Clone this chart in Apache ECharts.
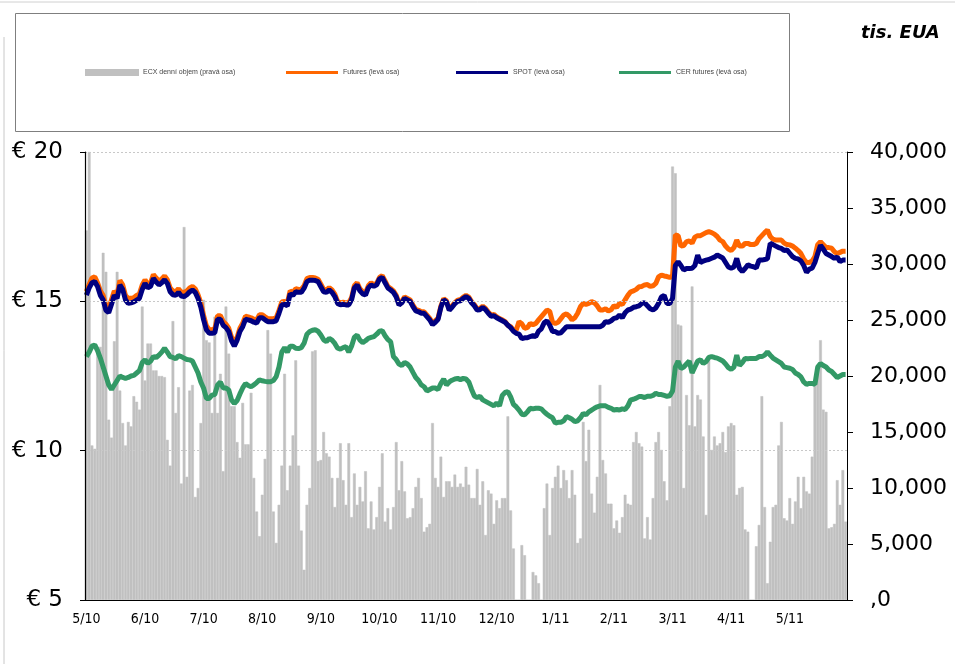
<!DOCTYPE html>
<html>
<head>
<meta charset="utf-8">
<script src="https://cdn.jsdelivr.net/npm/echarts@6/dist/echarts.min.js"></script>
<style>
  html, body { margin: 0; padding: 0; background: #fff; }
  #chart { width: 955px; height: 664px; }
</style>
</head>
<body>
<div id="chart"></div>
<script>
// months shown on the x axis, 21 trading days each
const monthLabels = ['5/10', '6/10', '7/10', '8/10', '9/10', '10/10', '11/10', '12/10', '1/11', '2/11', '3/11', '4/11', '5/11'];
const daysPerMonth = 21;

// ECX daily volume, tis. EUA (right axis)
const volume = [
  33000, 40000, 13800, 13500, 22600, 22600, 31000, 29300, 16100, 14500, 23100, 29300, 18700, 15800, 13800, 15900, 15500, 18200, 17700, 17000, 26200,
  19600, 22900, 22900, 20500, 20500, 20000, 20000, 19900, 14300, 12000, 24900, 16700, 19000, 10400, 33300, 11000, 18700, 19200, 9200, 10000, 15800,
  26800, 23200, 23000, 16700, 25300, 16700, 20200, 11500, 26200, 22000, 17300, 17300, 14100, 12700, 17600, 13900, 13900, 18500, 10900, 7900, 5700,
  9400, 12600, 24100, 22000, 7900, 5100, 8500, 12000, 20200, 9800, 12000, 14700, 21400, 12000, 6200, 2700, 8500, 10000, 22200, 22300, 12400,
  12500, 15000, 13100, 12800, 10900, 8300, 10900, 14000, 10700, 8500, 14000, 7400, 11300, 8500, 10100, 8800, 11500, 6400, 8800, 6300, 7400,
  10100, 13100, 7000, 8200, 6300, 8300, 14100, 9800, 12400, 9700, 7300, 7400, 8200, 10100, 10900, 9100, 6100, 6500, 6800, 15800, 10900,
  10100, 12800, 9200, 10600, 10600, 10100, 11200, 10100, 10400, 10100, 11900, 10300, 9100, 9100, 11700, 8500, 10600, 5800, 9800, 9500, 6800,
  8900, 8200, 9100, 9100, 16400, 8000, 4600, 0, 0, 4900, 4000, 0, 0, 2500, 2200, 1500, 0, 8200, 10400, 5800, 10000,
  11000, 12000, 10000, 11600, 10700, 9100, 11600, 9400, 5100, 5500, 15900, 12400, 15200, 9500, 7800, 11000, 19200, 12500, 11300, 8600, 8600,
  6400, 7100, 6000, 7400, 9400, 8600, 8500, 14100, 15000, 14000, 13700, 5500, 7400, 5400, 9100, 14100, 15000, 13400, 10600, 8900, 17300,
  38700, 38100, 24600, 24500, 10000, 18300, 15600, 28000, 15500, 18300, 17900, 14600, 7600, 21600, 13400, 14600, 13800, 14000, 15000, 13200, 15500,
  15800, 15600, 9400, 10000, 10100, 6300, 6100, 0, 0, 4800, 6700, 18200, 8300, 1500, 5200, 8300, 8500, 13800, 15900, 7300, 7100,
  9100, 6800, 8800, 11000, 8200, 11000, 9700, 9500, 12800, 19200, 20100, 23200, 17000, 16800, 6400, 6500, 6800, 10700, 8500, 11600, 7000
];

// EUA futures price, EUR (left axis)
const futures = [
  15.33, 15.57, 15.78, 15.82, 15.62, 15.35, 15.2, 14.85, 14.75, 15.05, 15.35, 15.22, 15.7, 15.55, 15.2, 15.1, 15.1, 15.12, 15.2, 15.25, 15.55,
  15.72, 15.57, 15.62, 15.9, 15.78, 15.68, 15.75, 15.85, 15.72, 15.45, 15.35, 15.32, 15.42, 15.3, 15.3, 15.35, 15.45, 15.5, 15.42, 15.22, 14.95,
  14.52, 14.18, 14.05, 14.05, 14.08, 14.52, 14.52, 14.32, 14.24, 14.1, 13.8, 13.62, 13.8, 14.1, 14.27, 14.5, 14.48, 14.45, 14.4, 14.38, 14.55,
  14.55, 14.48, 14.42, 14.42, 14.42, 14.45, 14.7, 14.98, 15.0, 14.95, 15.35, 15.3, 15.42, 15.4, 15.4, 15.52, 15.76, 15.8, 15.8, 15.78, 15.74,
  15.57, 15.4, 15.38, 15.46, 15.38, 15.24, 15.0, 14.95, 14.97, 14.95, 14.95, 15.12, 15.52, 15.62, 15.42, 15.32, 15.28, 15.52, 15.62, 15.56, 15.6,
  15.8, 15.86, 15.68, 15.5, 15.43, 15.35, 15.2, 14.93, 15.0, 15.15, 15.1, 15.05, 14.87, 14.73, 14.7, 14.65, 14.65, 14.54, 14.43, 14.27, 14.35,
  14.44, 14.84, 15.09, 15.02, 14.74, 14.84, 14.96, 15.04, 15.06, 15.14, 15.2, 15.14, 14.99, 14.89, 14.75, 14.76, 14.84, 14.76, 14.64, 14.54, 14.56,
  14.48, 14.42, 14.38, 14.32, 14.2, 14.15, 14.04, 14.04, 14.32, 14.25, 14.1, 14.12, 14.26, 14.22, 14.26, 14.38, 14.49, 14.6, 14.71, 14.66, 14.3,
  14.26, 14.3, 14.42, 14.54, 14.58, 14.5, 14.38, 14.45, 14.6, 14.82, 14.93, 14.9, 14.93, 14.99, 14.95, 14.85, 14.71, 14.71, 14.75, 14.68, 14.72,
  14.85, 14.8, 14.93, 14.9, 15.05, 15.2, 15.32, 15.35, 15.4, 15.49, 15.5, 15.55, 15.56, 15.5, 15.52, 15.6, 15.82, 15.88, 15.85, 15.83, 15.8,
  15.85, 17.22, 17.2, 16.85, 16.87, 17.0, 17.02, 16.95, 17.15, 17.2, 17.2, 17.25, 17.3, 17.33, 17.3, 17.25, 17.17, 17.05, 17.0, 16.85, 16.75,
  16.7, 16.8, 17.05, 16.85, 16.85, 16.94, 16.94, 16.9, 16.9, 16.94, 17.1, 17.2, 17.3, 17.39, 17.17, 17.08, 17.05, 17.05, 17.05, 16.95, 16.9,
  16.89, 16.85, 16.78, 16.7, 16.6, 16.42, 16.3, 16.3, 16.35, 16.5, 16.9, 17.0, 16.9, 16.8, 16.8, 16.78, 16.66, 16.6, 16.64, 16.68, 16.68
];

// EUA spot price, EUR (left axis)
const spot = [
  15.21, 15.45, 15.62, 15.66, 15.5, 15.2, 15.05, 14.7, 14.62, 14.9, 15.2, 15.1, 15.55, 15.4, 15.05, 14.93, 14.95, 14.98, 15.04, 15.1, 15.4,
  15.6, 15.45, 15.5, 15.77, 15.65, 15.55, 15.62, 15.72, 15.6, 15.32, 15.22, 15.2, 15.3, 15.18, 15.16, 15.22, 15.32, 15.38, 15.3, 15.1, 14.8,
  14.38, 14.05, 13.93, 13.93, 13.95, 14.4, 14.4, 14.2, 14.12, 13.99, 13.68, 13.5, 13.7, 13.99, 14.15, 14.4, 14.38, 14.35, 14.3, 14.27, 14.45,
  14.45, 14.38, 14.32, 14.32, 14.32, 14.35, 14.6, 14.88, 14.9, 14.85, 15.25, 15.2, 15.32, 15.3, 15.3, 15.44, 15.66, 15.71, 15.71, 15.7, 15.66,
  15.49, 15.32, 15.3, 15.38, 15.3, 15.16, 14.93, 14.88, 14.9, 14.88, 14.88, 15.05, 15.45, 15.55, 15.35, 15.25, 15.21, 15.45, 15.55, 15.5, 15.55,
  15.75, 15.8, 15.62, 15.45, 15.38, 15.3, 15.15, 14.88, 14.95, 15.1, 15.05, 15.0, 14.82, 14.68, 14.65, 14.6, 14.6, 14.49, 14.38, 14.22, 14.3,
  14.4, 14.8, 15.05, 14.98, 14.7, 14.8, 14.92, 15.0, 15.02, 15.1, 15.16, 15.1, 14.95, 14.85, 14.71, 14.72, 14.8, 14.72, 14.6, 14.5, 14.52,
  14.45, 14.4, 14.35, 14.3, 14.2, 14.12, 14.0, 13.93, 13.9, 13.75, 13.78, 13.78, 13.82, 13.85, 13.82, 14.0, 14.08, 14.28, 14.35, 14.2, 13.99,
  13.99, 13.93, 13.95, 14.05, 14.15, 14.15, 14.15, 14.15, 14.15, 14.15, 14.15, 14.15, 14.15, 14.15, 14.15, 14.15, 14.15, 14.2, 14.32, 14.3, 14.35,
  14.43, 14.45, 14.54, 14.45, 14.62, 14.71, 14.74, 14.8, 14.82, 14.85, 14.93, 14.96, 14.85, 14.75, 14.71, 14.78, 14.93, 15.15, 15.2, 14.93, 14.93,
  15.1, 16.2, 16.33, 16.2, 16.05, 16.1, 16.1, 16.11, 16.2, 16.55, 16.3, 16.35, 16.38, 16.4, 16.44, 16.48, 16.55, 16.5, 16.45, 16.3, 16.15,
  16.11, 16.15, 16.44, 16.1, 16.0, 16.1, 16.22, 16.18, 16.16, 16.12, 16.38, 16.38, 16.4, 16.42, 16.94, 16.9, 16.85, 16.8, 16.77, 16.7, 16.72,
  16.61, 16.5, 16.44, 16.42, 16.35, 16.2, 15.97, 16.08, 16.11, 16.3, 16.6, 16.88, 16.75, 16.6, 16.55, 16.5, 16.44, 16.48, 16.33, 16.38, 16.38
];

// CER futures price, EUR (left axis)
const cer = [
  13.15, 13.3, 13.5, 13.54, 13.35, 13.1, 12.8, 12.5, 12.2, 12.05, 12.2, 12.35, 12.5, 12.45, 12.42, 12.45, 12.5, 12.52, 12.6, 12.68, 12.95,
  13.04, 12.92, 13.0, 13.15, 13.12, 13.2, 13.3, 13.43, 13.3, 13.15, 13.12, 13.08, 13.18, 13.15, 13.1, 13.05, 13.04, 13.0, 12.8, 12.6, 12.3,
  12.09, 11.75, 11.75, 11.86, 11.88, 12.2, 12.3, 12.1, 12.1, 12.03, 11.7, 11.58, 11.68, 11.9, 12.1, 12.25, 12.18, 12.14, 12.2, 12.28, 12.37,
  12.34, 12.32, 12.31, 12.31, 12.35, 12.48, 12.8, 13.3, 13.45, 13.3, 13.5, 13.5, 13.43, 13.42, 13.45, 13.6, 13.9, 13.99, 14.03, 14.05, 14.0,
  13.87, 13.71, 13.65, 13.76, 13.7, 13.59, 13.43, 13.4, 13.45, 13.48, 13.3, 13.5, 13.8, 13.87, 13.7, 13.62, 13.68, 13.76, 13.79, 13.82, 13.9,
  14.0, 14.02, 13.85, 13.72, 13.65, 13.15, 13.05, 12.9, 12.85, 12.95, 12.9, 12.8, 12.62, 12.45, 12.35, 12.2, 12.14, 12.0, 12.05, 12.1, 12.1,
  12.05, 12.25, 12.4, 12.2, 12.3, 12.36, 12.4, 12.42, 12.38, 12.42, 12.4, 12.3, 12.05, 11.83, 11.78, 11.82, 11.7, 11.65, 11.6, 11.55, 11.5,
  11.6, 11.5, 11.85, 11.95, 11.98, 11.8, 11.55, 11.47, 11.36, 11.22, 11.2, 11.3, 11.42, 11.4, 11.42, 11.42, 11.4, 11.3, 11.22, 11.15, 11.1,
  10.92, 10.95, 10.95, 11.0, 11.14, 11.1, 11.05, 10.97, 11.0, 11.1, 11.25, 11.2, 11.3, 11.36, 11.42, 11.47, 11.5, 11.5, 11.5, 11.45, 11.42,
  11.36, 11.38, 11.36, 11.4, 11.38, 11.5, 11.7, 11.72, 11.76, 11.81, 11.81, 11.78, 11.82, 11.82, 11.85, 11.92, 11.88, 11.88, 11.85, 11.82, 11.84,
  12.0, 12.8, 13.0, 12.75, 12.8, 12.9, 13.0, 12.6, 12.8, 13.0, 13.04, 12.92, 12.98, 13.12, 13.15, 13.12, 13.1, 13.05, 13.0, 12.9, 12.78,
  12.72, 12.8, 13.2, 12.85, 12.95, 13.09, 13.08, 13.09, 13.09, 13.09, 13.15, 13.15, 13.2, 13.31, 13.2, 13.1, 13.04, 12.98, 12.92, 12.8, 12.78,
  12.76, 12.72, 12.6, 12.55, 12.47, 12.3, 12.22, 12.25, 12.25, 12.22, 12.8, 12.92, 12.85, 12.8, 12.7, 12.65, 12.55, 12.45, 12.5, 12.55, 12.55
];

const seriesNames = ['ECX denní objem (pravá osa)', 'Futures (levá osa)', 'SPOT (levá osa)', 'CER futures (levá osa)'];
const seriesColors = ['#c0c0c0', '#ff6600', '#000080', '#339966'];

// one category per trading day, label only on the first day of a month
const categories = [];
monthLabels.forEach(m => {
  for (let d = 0; d < daysPerMonth; d++) categories.push(m + '#' + d);
});
const isMonthStart = (index) => index % daysPerMonth === 0;

const axisFont = 'DejaVu Sans';
const legendLefts = [80, 281, 451, 614];

let chart = echarts.init(document.getElementById('chart'), null, { renderer: 'canvas' });

const option = {
  animation: false,
  backgroundColor: '#fff',
  grid: { left: 85, right: 108, top: 152, bottom: 64, containLabel: false },
  legend: seriesNames.map((name, i) => ({
    data: [name],
    left: legendLefts[i],
    top: 64,
    orient: 'horizontal',
    itemWidth: 52,
    itemHeight: i === 0 ? 5 : 3,
    icon: 'rect',
    selectedMode: false,
    textStyle: { fontSize: 7, color: '#444', fontFamily: 'Liberation Sans Narrow, Liberation Sans, sans-serif' }
  })),
  graphic: [
    { type: 'line', shape: { x1: 0, y1: 2, x2: 955, y2: 2 }, style: { stroke: '#d0d0d0', lineWidth: 1 }, z: -10 },
    { type: 'line', shape: { x1: 4, y1: 37, x2: 4, y2: 664 }, style: { stroke: '#c8c8c8', lineWidth: 1 }, z: -10 },
    { type: 'rect', shape: { x: 15.5, y: 13.5, width: 774, height: 118 }, style: { fill: '#fff', stroke: '#7f7f7f', lineWidth: 1 }, z: -5 },
    {
      type: 'text', left: 861, top: 24,
      style: { text: 'tis. EUA', font: 'italic bold 18px DejaVu Sans', fill: '#000' }
    }
  ],
  xAxis: {
    type: 'category',
    data: categories,
    boundaryGap: true,
    z: 10,
    axisLine: { lineStyle: { color: '#000', width: 1 } },
    axisTick: { interval: isMonthStart, length: 5, lineStyle: { color: '#000' } },
    axisLabel: {
      interval: isMonthStart,
      formatter: v => v.split('#')[0],
      color: '#000',
      fontSize: 14,
      fontFamily: 'DejaVu Sans Condensed, DejaVu Sans',
      margin: 12
    },
    splitLine: { show: false }
  },
  yAxis: [
    {
      type: 'value',
      min: 5, max: 20, interval: 5,
      position: 'left',
      z: 10,
      axisLine: { show: true, lineStyle: { color: '#000', width: 1.2 } },
      axisTick: { show: true, length: 5, lineStyle: { color: '#000' } },
      axisLabel: { formatter: v => '€ ' + v, color: '#000', fontSize: 23, fontFamily: axisFont, margin: 22 },
      splitLine: { show: true, lineStyle: { color: '#c8c8c8', type: [2, 2], width: 1 } }
    },
    {
      type: 'value',
      min: 0, max: 40000, interval: 5000,
      position: 'right',
      z: 10,
      axisLine: { show: true, lineStyle: { color: '#000' } },
      axisTick: { show: true, length: 6, lineStyle: { color: '#000' } },
      axisLabel: {
        formatter: v => (v === 0 ? ',0' : v.toLocaleString('en-US')),
        color: '#000', fontSize: 22, fontFamily: axisFont, margin: 23
      },
      splitLine: { show: false }
    }
  ],
  series: [
    {
      name: seriesNames[0], type: 'bar', yAxisIndex: 1, data: volume,
      itemStyle: { color: seriesColors[0], borderColor: seriesColors[0], borderWidth: 0.5 },
      barCategoryGap: '0%',
      emphasis: { disabled: true }, z: 0
    },
    {
      name: seriesNames[1], type: 'line', yAxisIndex: 0, data: futures,
      showSymbol: false, lineStyle: { color: seriesColors[1], width: 5 },
      itemStyle: { color: seriesColors[1] }, emphasis: { disabled: true }, z: 3
    },
    {
      name: seriesNames[2], type: 'line', yAxisIndex: 0, data: spot,
      showSymbol: false, lineStyle: { color: seriesColors[2], width: 5 },
      itemStyle: { color: seriesColors[2] }, emphasis: { disabled: true }, z: 4
    },
    {
      name: seriesNames[3], type: 'line', yAxisIndex: 0, data: cer,
      showSymbol: false, lineStyle: { color: seriesColors[3], width: 5 },
      itemStyle: { color: seriesColors[3] }, emphasis: { disabled: true }, z: 3
    }
  ]
};

chart.setOption(option);
</script>
</body>
</html>
